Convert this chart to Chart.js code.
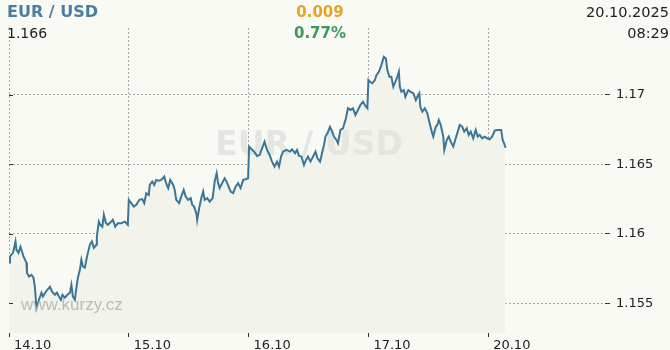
<!DOCTYPE html>
<html>
<head>
<meta charset="utf-8">
<script src="https://cdn.jsdelivr.net/npm/chart.js@4"></script>
<style>
html, body { margin: 0; padding: 0; background: #fafaf5; }
#wrap { position: relative; width: 670px; height: 350px; }
</style>
</head>
<body>
<div id="wrap"><canvas id="myChart" width="670" height="350"></canvas></div>
<script>
// header texts
const pairName = 'EUR / USD';
const lastRate = '1.166';
const change = '0.009';
const changePct = '0.77%';
const dateText = '20.10.2025';
const timeText = '08:29';

// x axis: hours since 14.10 00:00 (one trading day = 24 h on the axis)
const dayTicks = [0, 24, 48, 72, 96];
const dayLabels = ['14.10', '15.10', '16.10', '17.10', '20.10'];
const rateTicks = [1.155, 1.16, 1.165, 1.17];
const rateMin = 1.15286;
const rateMax = 1.17482;
const hourMax = 119.4;

// intraday quotes
const times = [
  0, 0.2, 0.8, 1.3, 1.5, 1.9, 2.3, 2.6, 2.9, 3.5, 3.6, 4.0, 4.5, 4.9, 5.2, 5.5, 6.0, 6.5, 6.8, 7.4,
  8.2, 8.6, 9.2, 9.6, 10.0, 10.4, 10.7, 11.2, 11.7, 12.2, 12.5, 12.8, 13.2, 13.5, 13.8, 14.2, 14.5, 14.8, 15.2, 15.5,
  15.8, 16.2, 16.6, 17.0, 17.5, 17.6, 18.0, 18.3, 18.7, 19.0, 19.4, 19.8, 20.5, 20.8, 21.3, 21.8, 22.5, 23.2, 23.8,
  24.0, 24.5, 25.0, 25.5, 26.1, 26.7, 27.1, 27.5, 28.0, 28.2, 28.7, 29.1, 29.5, 30.0, 30.5, 31.1, 31.6, 31.9, 32.3,
  32.9, 33.2, 33.5, 34.1, 34.5, 35.0, 35.4, 35.9, 36.4, 36.7, 37.1, 37.6, 37.7, 38.1, 38.6, 38.9, 39.2, 39.7, 40.2,
  40.8, 41.2, 41.6, 41.9, 42.2, 42.7, 43.2, 43.6, 44.0, 44.4, 44.9, 45.4, 45.9, 46.4, 46.9, 47.4, 47.9,
  48.1, 48.6, 49.1, 49.7, 50.2, 50.7, 51.2, 51.7, 52.2, 52.7, 53.2, 53.7, 54.1, 54.5, 54.9, 55.6, 56.3, 56.7, 57.3,
  57.7, 58.1, 58.6, 59.1, 59.5, 59.9, 60.4, 60.9, 61.4, 61.8, 62.3, 62.7, 63.1, 63.4, 63.8, 64.3, 64.6, 65.1, 65.6,
  65.9, 66.4, 66.9, 67.5, 67.9, 68.4, 68.9, 69.4, 69.9, 70.4, 70.9, 71.5, 71.8,
  72.0, 72.3, 72.8, 73.3, 73.6, 74.1, 74.6, 75.1, 75.5, 75.8, 76.2, 76.6, 77.0, 77.4, 77.8, 78.1, 78.3, 78.6, 79.1,
  79.4, 80.0, 80.4, 81.0, 81.5, 81.8, 82.2, 82.4, 82.8, 83.3, 83.8, 84.2, 84.7, 85.0, 85.5, 85.8, 86.1, 86.5, 87.0,
  87.2, 87.7, 88.1, 88.5, 89.0, 89.5, 89.9, 90.3, 90.8, 91.2, 91.7, 92.1, 92.5, 93.0, 93.5, 93.9, 94.3, 94.8, 95.3, 95.8,
  96.3, 96.8, 97.3, 97.8, 98.3, 98.6, 98.9, 99.3, 99.5
];
const rates = [
  1.15794, 1.15837, 1.15863, 1.15945, 1.15885, 1.15863, 1.15907, 1.15873, 1.15837, 1.15792, 1.1572, 1.15693, 1.15705, 1.15684, 1.15612, 1.15468, 1.15525, 1.15576, 1.15549, 1.15585,
  1.15619, 1.15585, 1.15561, 1.15576, 1.15549, 1.15525, 1.15561, 1.1554, 1.15561, 1.15576, 1.15633, 1.15549, 1.15525, 1.15612, 1.15684, 1.15741, 1.15813, 1.15765, 1.15756, 1.15813,
  1.15863, 1.15921, 1.15945, 1.15899, 1.15921, 1.15981, 1.16088, 1.16065, 1.16052, 1.16137, 1.16079, 1.16065, 1.16088, 1.16101, 1.16052, 1.16077, 1.16077, 1.16088, 1.16065,
  1.16245, 1.16221, 1.16196, 1.16209, 1.16245, 1.1625, 1.16221, 1.16293, 1.1628, 1.16352, 1.16376, 1.16352, 1.16388, 1.16383, 1.16388, 1.16412, 1.16352, 1.16329, 1.16388,
  1.16352, 1.16316, 1.16245, 1.16221, 1.16268, 1.16316, 1.16268, 1.16245, 1.16257, 1.16209, 1.16196, 1.16137, 1.16101, 1.16185, 1.16268, 1.16304, 1.16245, 1.16257, 1.16232,
  1.16257, 1.16376, 1.16436, 1.16365, 1.16329, 1.16365, 1.164, 1.16376, 1.1634, 1.16304, 1.16293, 1.1634, 1.16365, 1.16329, 1.16388, 1.16393, 1.164,
  1.16628, 1.16609, 1.16592, 1.16561, 1.16568, 1.16616, 1.16664, 1.16604, 1.16568, 1.1652, 1.16484, 1.1652, 1.16484, 1.16556, 1.16592, 1.16604, 1.16592, 1.16609, 1.1658,
  1.16604, 1.16561, 1.16556, 1.16496, 1.16532, 1.16556, 1.1652, 1.16556, 1.16592, 1.16544, 1.1652, 1.1658, 1.1664, 1.167, 1.16724, 1.16771, 1.16748, 1.167, 1.16676,
  1.16652, 1.16748, 1.1676, 1.16832, 1.16904, 1.16892, 1.16904, 1.16856, 1.16892, 1.16928, 1.16951, 1.16915, 1.16904,
  1.17107, 1.17095, 1.17084, 1.17107, 1.17143, 1.17167, 1.17215, 1.17275, 1.17263, 1.17179, 1.17131, 1.17131, 1.17059, 1.17095, 1.17131, 1.17167, 1.17059, 1.17023, 1.17035,
  1.16987, 1.17035, 1.17023, 1.17012, 1.16963, 1.16987, 1.17012, 1.16915, 1.16879, 1.16904, 1.16868, 1.16807, 1.16736, 1.167, 1.16771, 1.16784, 1.1682, 1.16784, 1.167,
  1.16604, 1.16676, 1.167, 1.16664, 1.16628, 1.16688, 1.16736, 1.16784, 1.16771, 1.16736, 1.1676, 1.16712, 1.16736, 1.16688, 1.16748, 1.167, 1.16712, 1.16688, 1.167, 1.16688,
  1.16681, 1.167, 1.16743, 1.16748, 1.16748, 1.16748, 1.16676, 1.1664, 1.1662
];

const tickFont = { family: 'DejaVu Sans', size: 13 };

// texts drawn on the canvas: header, watermarks, small inner ticks
const kurzyText = {
  id: 'kurzyText',
  // runs after the filler has painted the area, before the line itself
  beforeDatasetDraw(chart) {
    const ctx = chart.ctx;
    ctx.save();
    ctx.font = 'bold 33px "DejaVu Sans"';
    ctx.fillStyle = '#e5e5e2';
    ctx.textAlign = 'center';
    ctx.textBaseline = 'alphabetic';
    ctx.fillText(pairName, 309, 155);
    ctx.restore();
  },
  afterDatasetsDraw(chart) {
    const ctx = chart.ctx;
    const a = chart.chartArea;
    const ys = chart.scales.y;
    ctx.save();
    ctx.font = '17px "Liberation Sans"';
    ctx.fillStyle = 'rgba(178,178,178,0.85)';
    ctx.textAlign = 'left';
    ctx.fillText('www.kurzy.cz', 21, 310);

    ctx.strokeStyle = '#333';
    ctx.lineWidth = 1;
    rateTicks.forEach(v => {
      const y = Math.round(ys.getPixelForValue(v)) + 0.5;
      ctx.beginPath();
      ctx.moveTo(a.left, y);
      ctx.lineTo(a.left + 4, y);
      ctx.stroke();
    });
    ctx.restore();
  },
  afterDraw(chart) {
    const ctx = chart.ctx;
    ctx.save();
    ctx.textBaseline = 'alphabetic';
    ctx.font = 'bold 16px "DejaVu Sans"';
    ctx.fillStyle = '#4a7d9f';
    ctx.textAlign = 'left';
    ctx.fillText(pairName, 7, 17);

    ctx.font = 'bold 15px "DejaVu Sans"';
    ctx.fillStyle = '#e2a52c';
    ctx.textAlign = 'center';
    ctx.fillText(change, 320, 17);
    ctx.fillStyle = '#3a9a5e';
    ctx.fillText(changePct, 320, 38);

    ctx.font = '14.5px "DejaVu Sans"';
    ctx.fillStyle = '#222';
    ctx.textAlign = 'right';
    ctx.fillText(dateText, 669, 17);
    ctx.fillText(timeText, 669, 38);

    ctx.font = '14px "DejaVu Sans"';
    ctx.textAlign = 'left';
    ctx.fillText(lastRate, 7, 38);
    ctx.restore();
  }
};

new Chart(document.getElementById('myChart'), {
  type: 'line',
  data: {
    datasets: [{
      data: times.map((t, i) => ({ x: t, y: rates[i] })),
      borderColor: '#3a7699',
      borderWidth: 2,
      pointRadius: 0,
      tension: 0,
      fill: 'start',
      backgroundColor: '#f2f3ea'
    }]
  },
  options: {
    responsive: false,
    animation: false,
    layout: { padding: { left: 9, top: 28, right: 0, bottom: 0 } },
    plugins: { legend: { display: false }, tooltip: { enabled: false } },
    scales: {
      x: {
        type: 'linear',
        min: 0,
        max: hourMax,
        afterBuildTicks: ax => { ax.ticks = dayTicks.map(v => ({ value: v })); },
        afterFit: ax => { ax.height = 17; },
        grid: { color: '#a8a8a8', tickColor: '#333', tickLength: 4, tickBorderDash: [] },
        border: { display: false, dash: [2, 2] },
        ticks: {
          callback: (v, i) => dayLabels[i],
          align: 'start',
          labelOffset: 5,
          padding: 1,
          maxRotation: 0,
          autoSkip: false,
          font: tickFont,
          color: '#222'
        }
      },
      y: {
        position: 'right',
        min: rateMin,
        max: rateMax,
        afterBuildTicks: ax => { ax.ticks = rateTicks.map(v => ({ value: v })); },
        afterFit: ax => { ax.width = 65; },
        grid: { color: '#a8a8a8', tickColor: '#333', tickLength: 5, tickBorderDash: [] },
        border: { display: false, dash: [2, 2] },
        ticks: {
          callback: v => String(v),
          padding: 6,
          font: tickFont,
          color: '#222'
        }
      }
    }
  },
  plugins: [kurzyText]
});
</script>
</body>
</html>
